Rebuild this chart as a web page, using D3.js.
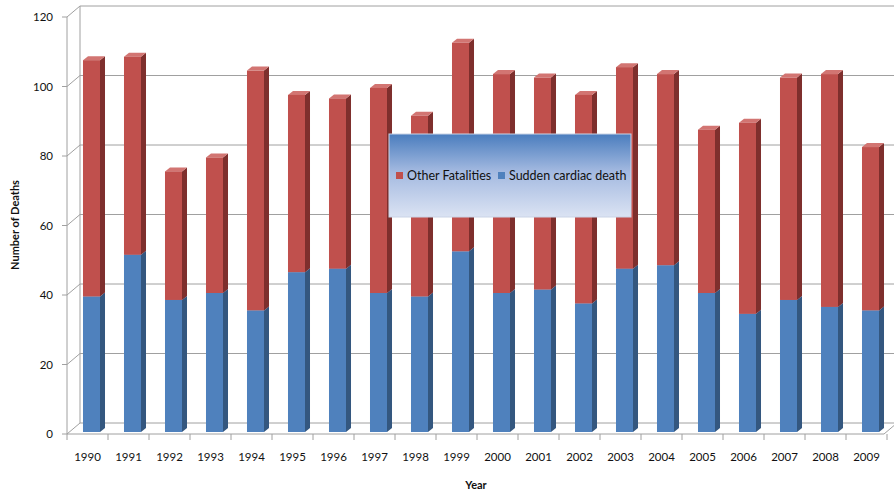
<!DOCTYPE html>
<html>
<head>
<meta charset="utf-8">
<script src="https://cdn.jsdelivr.net/npm/d3@7"></script>
<style>
  body { margin: 0; background: #fff; }
  text { font-family: Lato, "Liberation Sans", sans-serif; fill: #111; }
</style>
</head>
<body>
<div id="chart"></div>
<script>
var years = ["1990","1991","1992","1993","1994","1995","1996","1997","1998","1999",
             "2000","2001","2002","2003","2004","2005","2006","2007","2008","2009"];
var cardiacDeaths   = [39, 51, 38, 40, 35, 46, 47, 40, 39, 52, 40, 41, 37, 47, 48, 40, 34, 38, 36, 35];
var otherFatalities = [68, 57, 37, 39, 69, 51, 49, 59, 52, 60, 63, 61, 60, 58, 55, 47, 55, 64, 67, 47];
var yTicks = [0, 20, 40, 60, 80, 100, 120];
var seriesNames = ["Other Fatalities", "Sudden cardiac death"];

var width = 894, height = 492;
var depth = {dx: 13, dy: -11};      // offset of the back wall
var barDepth = {dx: 5, dy: -4};     // side of each column

var svg = d3.select("#chart").append("svg")
    .attr("width", width)
    .attr("height", height);

var x = d3.scaleBand().domain(years).range([67, 887]);
var yFront = d3.scaleLinear().domain([0, 120]).range([434, 17]);
var yBar = d3.scaleLinear().domain([0, 120]).range([432, 15]);

var line = d3.line();
var grid = svg.append("g").attr("stroke", "#a0a0a0").attr("fill", "none");

// back wall + gridlines
yTicks.forEach(function(t) {
  var yy = yFront(t);
  grid.append("path").attr("d", line([[62, yy], [67, yy], [67 + depth.dx, yy + depth.dy], [width + 5, yy + depth.dy]]));
});
grid.append("path").attr("d", line([[67 + depth.dx, yFront(120) + depth.dy], [67 + depth.dx, yFront(0) + depth.dy]]));
// floor
grid.append("path").attr("d", line([[67, yFront(0)], [884, yFront(0)], [884 + depth.dx, yFront(0) + depth.dy]]));
// front value axis
grid.append("path").attr("d", line([[67, yFront(120)], [67, yFront(0)]]));

// category ticks
years.forEach(function(yr) {
  grid.append("path").attr("d", line([[x(yr), yFront(0)], [x(yr), yFront(0) + 6]]));
});
grid.append("path").attr("d", line([[887, yFront(0)], [887, yFront(0) + 6]]));

// stacked 3d columns
var colors = {
  blue: {front: "#4f81bd", side: "#34577f", top: "#7399cc"},
  red:  {front: "#c0504d", side: "#7e2f2d", top: "#d27572"}
};
var bw = x.bandwidth() * 0.415;
var bo = x.bandwidth() * 0.39;

function drawSegment(g, x0, v0, v1, c) {
  var y0 = yBar(v0), y1 = yBar(v1);
  g.append("path")
    .attr("d", line([[x0 + bw, y0], [x0 + bw + barDepth.dx, y0 + barDepth.dy],
                     [x0 + bw + barDepth.dx, y1 + barDepth.dy], [x0 + bw, y1]]) + "Z")
    .attr("fill", c.side);
  g.append("path")
    .attr("d", line([[x0, y1], [x0 + barDepth.dx, y1 + barDepth.dy],
                     [x0 + bw + barDepth.dx, y1 + barDepth.dy], [x0 + bw, y1]]) + "Z")
    .attr("fill", c.top);
  g.append("rect")
    .attr("x", x0).attr("y", y1)
    .attr("width", bw).attr("height", y0 - y1)
    .attr("fill", c.front);
}

var bars = svg.append("g");
years.forEach(function(yr, i) {
  var g = bars.append("g");
  var x0 = x(yr) + bo;
  drawSegment(g, x0, 0, cardiacDeaths[i], colors.blue);
  drawSegment(g, x0, cardiacDeaths[i], cardiacDeaths[i] + otherFatalities[i], colors.red);
});

// tick labels
svg.append("g").selectAll("text")
  .data(yTicks)
  .enter().append("text")
  .attr("x", 53)
  .attr("y", function(d) { return yFront(d) + 4; })
  .attr("text-anchor", "end")
  .style("font-size", "11.5px")
  .text(function(d) { return d; });

svg.append("g").selectAll("text")
  .data(years)
  .enter().append("text")
  .attr("x", function(d) { return x(d) + x.bandwidth() / 2; })
  .attr("y", 461)
  .attr("text-anchor", "middle")
  .style("font-size", "11.5px")
  .text(function(d) { return d; });

// axis titles
svg.append("text")
  .attr("transform", "translate(19,225) rotate(-90)")
  .attr("text-anchor", "middle")
  .style("font-size", "11px")
  .style("font-weight", "bold")
  .text("Number of Deaths");

svg.append("text")
  .attr("x", 476).attr("y", 489)
  .attr("text-anchor", "middle")
  .style("font-size", "11px")
  .style("font-weight", "bold")
  .text("Year");

// legend
var defs = svg.append("defs");
var grad = defs.append("linearGradient").attr("id", "legGrad")
  .attr("x1", 0).attr("y1", 0).attr("x2", 0).attr("y2", 1);
grad.append("stop").attr("offset", "0%").attr("stop-color", "#4a7dbe");
grad.append("stop").attr("offset", "45%").attr("stop-color", "#a3b9e0");
grad.append("stop").attr("offset", "100%").attr("stop-color", "#dbe3f3");

var legend = svg.append("g");
legend.append("rect")
  .attr("x", 389).attr("y", 134)
  .attr("width", 242).attr("height", 83)
  .attr("fill", "url(#legGrad)")
  .attr("stroke", "#c9d3e6");

var legendItems = [
  {name: seriesNames[0], color: colors.red.front, sx: 396, tx: 407},
  {name: seriesNames[1], color: colors.blue.front, sx: 498, tx: 509}
];
legendItems.forEach(function(d) {
  legend.append("rect")
    .attr("x", d.sx).attr("y", 172)
    .attr("width", 7).attr("height", 7)
    .attr("fill", d.color);
  legend.append("text")
    .attr("x", d.tx).attr("y", 180)
    .style("font-size", "12.5px")
    .text(d.name);
});
</script>
</body>
</html>
